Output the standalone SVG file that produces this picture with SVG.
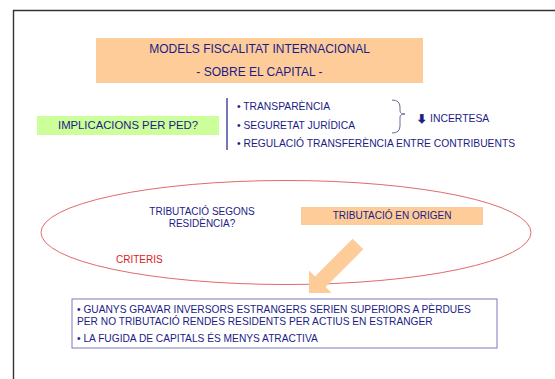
<svg xmlns="http://www.w3.org/2000/svg" width="555" height="379" viewBox="0 0 555 379">
<style>
.t{font-family:"Liberation Sans",Arial,sans-serif;fill:#1c1c86}
.peach{fill:#fdcc99}
</style>
<rect width="555" height="379" fill="#fff"/>
<path d="M13.5 400 V10.5 H600" fill="none" stroke="#333" stroke-width="1.4"/>
<g id="title">
<rect class="peach" x="96" y="38" width="327" height="45"/>
<text class="t" x="259.5" y="53" text-anchor="middle" font-size="12">MODELS FISCALITAT INTERNACIONAL</text>
<text class="t" x="259.5" y="76" text-anchor="middle" font-size="12">- SOBRE EL CAPITAL -</text>
</g>
<g id="implicacions">
<rect x="37" y="116" width="182" height="19" fill="#ccff99"/>
<text class="t" x="128" y="129" text-anchor="middle" font-size="11.3">IMPLICACIONS PER PED?</text>
</g>
<g id="connectors">
<line x1="227" y1="98" x2="227" y2="150" stroke="#1c1c86" stroke-width="1.2"/>
<path d="M392 100 Q400 100 400 107 L400 111 Q400 114 405 114 Q400 114 400 117 L400 126 Q400 133 392 133" fill="none" stroke="#6a6a9a" stroke-width="1"/>
</g>
<g id="bullets">
<text class="t" x="237" y="110" font-size="10.3">• TRANSPARÈNCIA</text>
<text class="t" x="237" y="129" font-size="10.3">• SEGURETAT JURÍDICA</text>
<text class="t" x="237" y="147" font-size="10.3">• REGULACIÓ TRANSFERÈNCIA ENTRE CONTRIBUENTS</text>
</g>
<g id="incertesa">
<text x="416.5" y="122.5" font-family="DejaVu Sans,sans-serif" font-size="12" font-weight="bold" fill="#1c1c86" stroke="#1c1c86" stroke-width="0.6">⬇</text>
<text class="t" x="430" y="122" font-size="10.4">INCERTESA</text>
</g>
<g id="criteris">
<ellipse cx="286" cy="232.5" rx="245" ry="52" fill="none" stroke="#e06a6a" stroke-width="1"/>
<text class="t" x="202" y="215" text-anchor="middle" font-size="10">TRIBUTACIÓ SEGONS</text>
<text class="t" x="202" y="227" text-anchor="middle" font-size="10">RESIDÈNCIA?</text>
<text class="t" x="116" y="263" font-size="10" style="fill:#e02020">CRITERIS</text>
</g>
<g id="origen">
<rect class="peach" x="301" y="207" width="182" height="18"/>
<text class="t" x="392" y="219" text-anchor="middle" font-size="10">TRIBUTACIÓ EN ORIGEN</text>
</g>
<g id="arrow">
<polygon class="peach" points="309,293 309,270.4 315,276.4 352.7,238.7 363.3,249.3 325.6,287 331.6,293"/>
</g>
<g id="conclusions">
<rect x="72" y="299" width="425" height="49" fill="#fff" stroke="#7a7ac0" stroke-width="1"/>
<text class="t" x="77" y="313" font-size="10.2">• GUANYS GRAVAR INVERSORS ESTRANGERS SERIEN SUPERIORS A PÈRDUES</text>
<text class="t" x="77" y="325" font-size="10.2">PER NO TRIBUTACIÓ RENDES RESIDENTS PER ACTIUS EN ESTRANGER</text>
<text class="t" x="77" y="342" font-size="10.2">• LA FUGIDA DE CAPITALS ÉS MENYS ATRACTIVA</text>
</g>
</svg>
